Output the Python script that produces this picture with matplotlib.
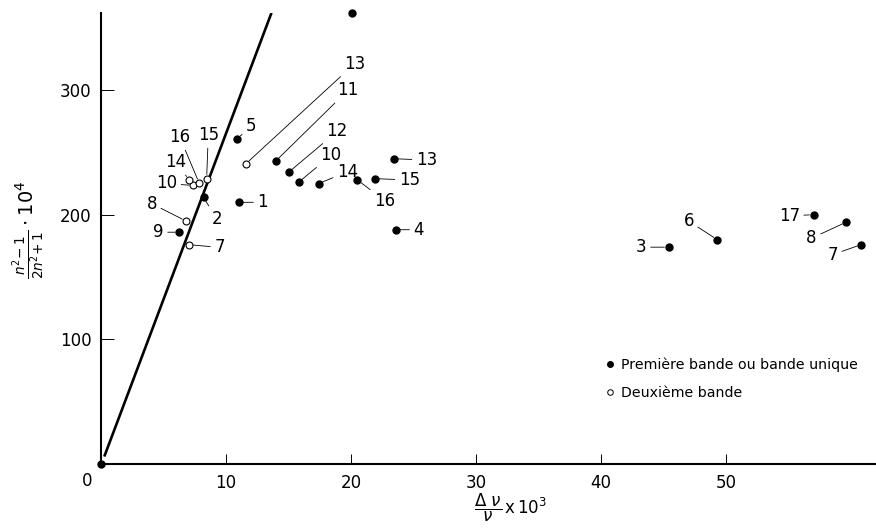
import numpy as np
import matplotlib
matplotlib.use('Agg')
import matplotlib.pyplot as plt
from matplotlib.lines import Line2D

plt.rcParams['font.family'] = ['DejaVu Sans']
plt.rcParams['mathtext.fontset'] = 'dejavusans'

# Première bande ou bande unique (filled)
first_x = [0.0, 20.1, 10.9, 11.0, 8.2, 6.25, 13.97, 15.0, 15.8, 17.4, 20.5, 21.9, 23.4, 23.6, 45.4, 49.3, 57.0, 59.6, 60.8]
first_y = [0, 362, 261, 210, 214, 186, 243, 234, 226, 225, 228, 229, 245, 188, 174, 180, 200, 194, 176]
first_lbl = ['', '', '5', '1', '2', '9', '11', '12', '10', '14', '16', '15', '13', '4', '3', '6', '17', '8', '7']

# Deuxième bande (open)
second_x = [11.6, 6.8, 7.05, 7.35, 7.05, 7.85, 8.45]
second_y = [241, 195, 176, 223.5, 228, 225.5, 229]
second_lbl = ['13', '8', '7', '10', '14', '16', '15']

# straight line
fit_x = [0.3, 13.6]
fit_y = [7, 361]

# label offsets in points
first_off = [None, None, (10, 9), (17.5, 0), (9.5, -15.5), (-15, 0), (52, 51), (35, 29.5),
             (23.3, 19.4), (21, 8.6), (19.7, -14.9), (25, -1), (23.8, -1), (16.5, 0),
             (-19.7, 0), (-20.6, 13.4), (-17.5, -0.7), (-24.8, -11.5), (-20.4, -7.2)]
second_off = [(78, 71.8), (-24.7, 12.5), (22, -2), (-19, 1.5), (-9.6, 12.7), (-13.9, 33), (1.2, 31.4)]

fig = plt.figure(figsize=(8.76, 5.32), dpi=100)
ax = fig.add_axes([0.1153, 0.1278, 0.8847, 0.848])

ax.plot(fit_x, fit_y, '-', color='black', lw=1.9)
ax.plot(first_x, first_y, 'o', color='black', ms=5, linestyle='None', clip_on=False, zorder=3)
ax.plot(second_x, second_y, 'o', mfc='white', mec='black', mew=0.8, ms=5, linestyle='None', zorder=3)

for x, y, s, off in zip(first_x, first_y, first_lbl, first_off):
    if s == '':
        continue
    ax.annotate(s, (x, y), xytext=off, textcoords='offset points', ha='center', va='center', fontsize=12,
                arrowprops=dict(arrowstyle='-', lw=0.6, color='black', shrinkA=1, shrinkB=3))
for x, y, s, off in zip(second_x, second_y, second_lbl, second_off):
    ax.annotate(s, (x, y), xytext=off, textcoords='offset points', ha='center', va='center', fontsize=12,
                arrowprops=dict(arrowstyle='-', lw=0.6, color='black', shrinkA=1, shrinkB=3))

ax.set_xlim(0, 62)
ax.set_ylim(0, 362)
ax.spines['top'].set_visible(False)
ax.spines['right'].set_visible(False)
ax.spines['left'].set_linewidth(1.5)
ax.spines['bottom'].set_linewidth(1.5)

ax.set_xticks([10, 20, 30, 40, 50])
ax.set_yticks([100, 200, 300])
ax.tick_params(axis='x', direction='in', length=7, width=0.7, pad=7, labelsize=12)
ax.tick_params(axis='y', direction='in', length=9, width=0.7, pad=7, labelsize=12)
ax.text(-0.018, -0.018, '0', transform=ax.transAxes, ha='center', va='top', fontsize=12)

ax.set_xlabel(r'$\dfrac{\Delta\ \nu}{\nu}\,$x$\,10^3$', fontsize=12)
ax.xaxis.set_label_coords(0.529, -0.062)
ax.set_ylabel(r'$\frac{n^2\!-1}{2n^2\!+1}\cdot10^4$', fontsize=14)
ax.yaxis.set_label_coords(-0.07, 0.52)

handles = [
    Line2D([0], [0], marker='o', color='black', linestyle='None', markersize=4, label='Première bande ou bande unique'),
    Line2D([0], [0], marker='o', mfc='white', mec='black', mew=0.7, linestyle='None', markersize=4, label='Deuxième bande'),
]
ax.legend(handles=handles, loc='upper left', bbox_to_anchor=(0.645, 0.248), frameon=False, fontsize=10.2,
          handlelength=0.5, handletextpad=0.5, labelspacing=0.95, borderaxespad=0)

plt.savefig('out.png', dpi=100)
